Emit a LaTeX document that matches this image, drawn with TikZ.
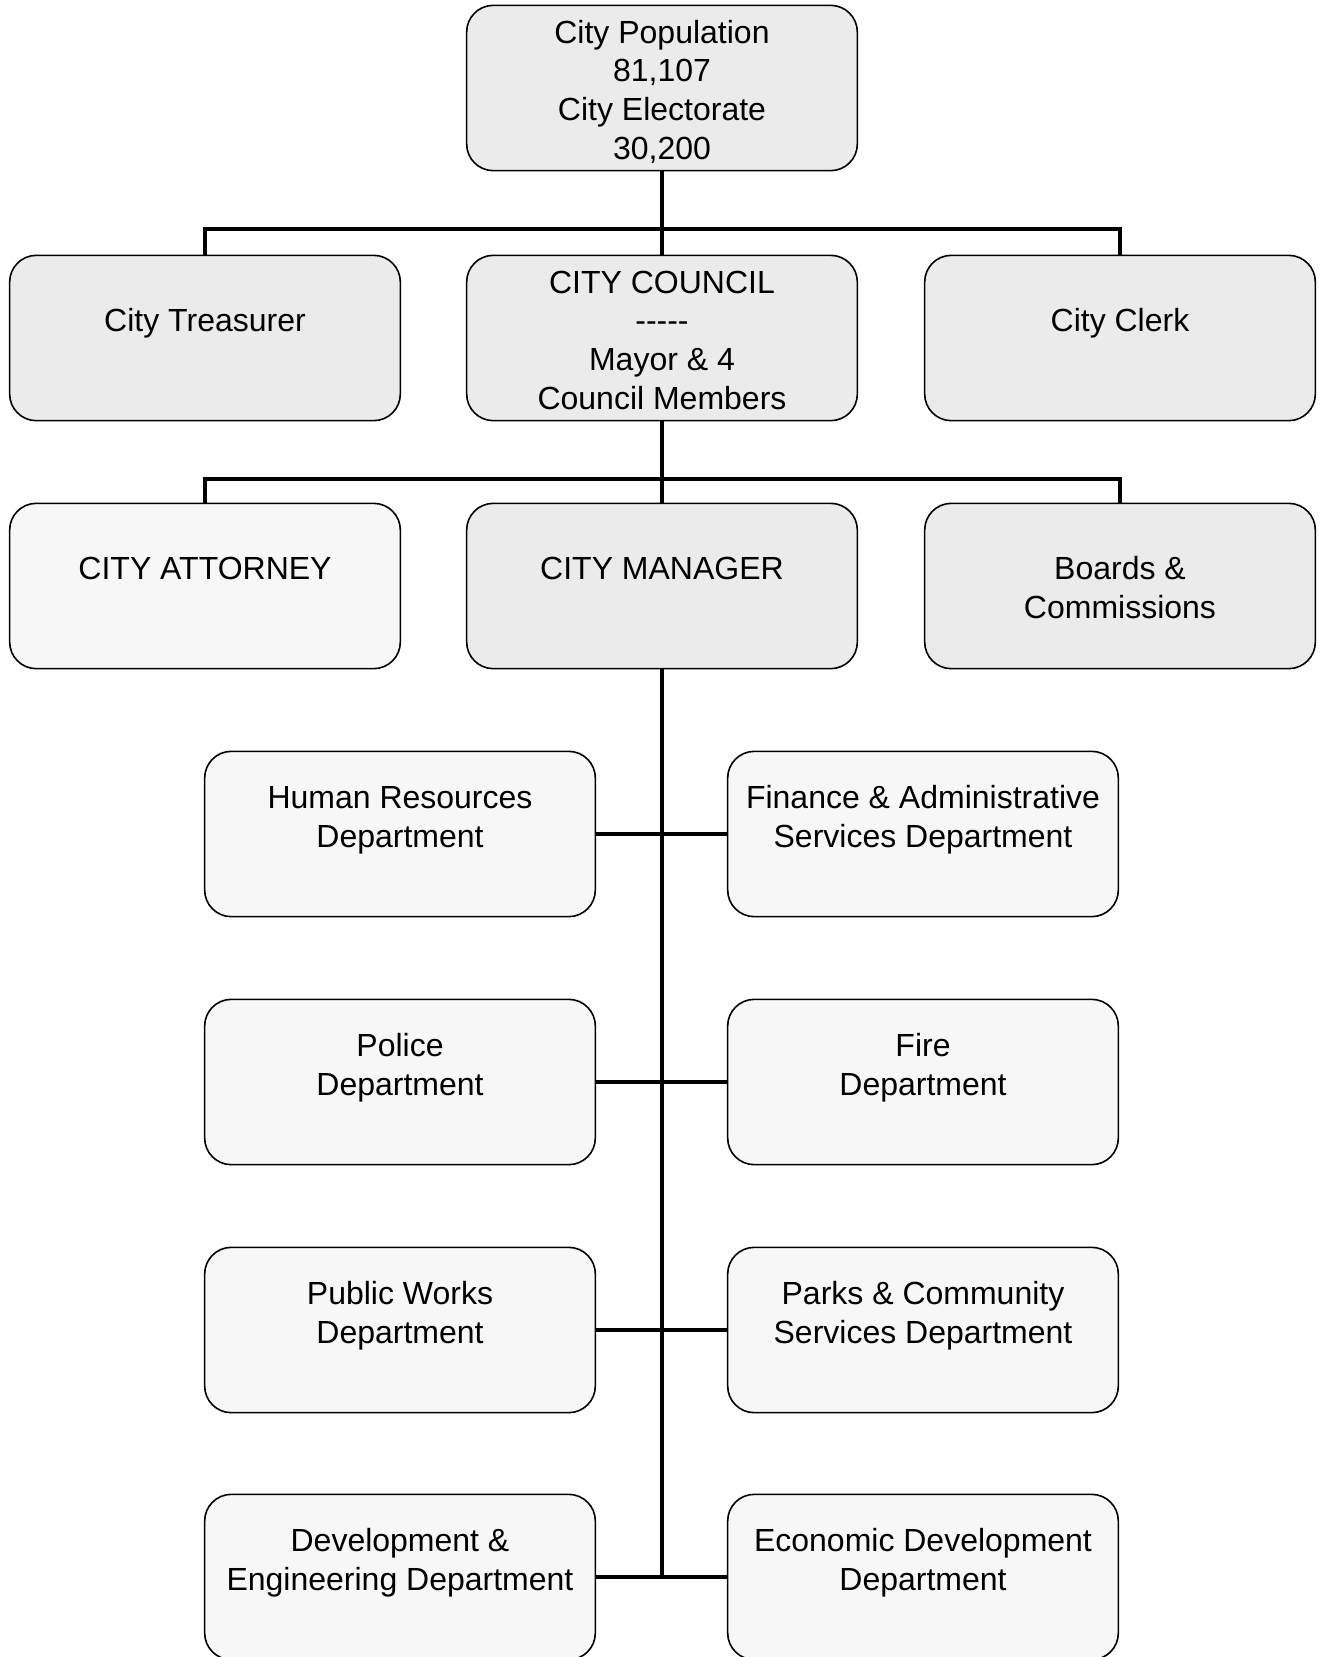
\documentclass[tikz,border=0pt]{standalone}
\usepackage{fontspec}
\setmainfont{Liberation Sans}
\usetikzlibrary{positioning}

\tikzset{
  office/.style={draw, line width=1.2pt, rounded corners=20pt, fill=gray!16,
    minimum width=293pt, minimum height=124pt, inner sep=0pt},
  dept/.style={office, fill=gray!6},
  caption/.style={align=center, anchor=base, inner sep=0pt,
    font=\fontsize{24}{29}\selectfont},
  link/.style={line width=3pt},
}

\begin{document}
\begin{tikzpicture}[x=0.75pt, y=-0.75pt]
\useasboundingbox (0,0) rectangle (1321,1657);

% boxes
\node[office] (pop) at (662,88) {};
\node[office] (treas) at (205,338) {};
\node[office] (council) at (662,338) {};
\node[office] (clerk) at (1120,338) {};
\node[dept] (atty) at (205,586) {};
\node[office] (mgr) at (662,586) {};
\node[office] (boards) at (1120,586) {};

\node[dept] (hr) at (400,834) {};
\node[dept] (fin) at (923,834) {};
\node[dept] (pol) at (400,1082) {};
\node[dept] (fire) at (923,1082) {};
\node[dept] (pw) at (400,1330) {};
\node[dept] (parks) at (923,1330) {};
\node[dept] (dev) at (400,1577) {};
\node[dept] (econ) at (923,1577) {};

% texts (base = last line)
\node[caption] (pop-t) at ([yshift=-116pt]pop.north) {City Population\\81,107\\City Electorate\\30,200};
\node[caption] (treas-t) at ([yshift=-58pt]treas.north) {City Treasurer};
\node[caption] (council-t) at ([yshift=-116pt]council.north) {CITY COUNCIL\\-{}-{}-{}-{}-\\Mayor \& 4\\Council Members};
\node[caption] (clerk-t) at ([yshift=-58pt]clerk.north) {City Clerk};
\node[caption] (atty-t) at ([yshift=-58pt]atty.north) {CITY ATTORNEY};
\node[caption] (mgr-t) at ([yshift=-58pt]mgr.north) {CITY MANAGER};
\node[caption] (boards-t) at ([yshift=-87pt]boards.north) {Boards \&\\Commissions};

\node[caption] (hr-t) at ([yshift=-72.5pt]hr.north) {Human Resources\\Department};
\node[caption] (fin-t) at ([yshift=-72.5pt]fin.north) {Finance \& Administrative\\Services Department};
\node[caption] (pol-t) at ([yshift=-72.5pt]pol.north) {Police\\Department};
\node[caption] (fire-t) at ([yshift=-72.5pt]fire.north) {Fire\\Department};
\node[caption] (pw-t) at ([yshift=-72.5pt]pw.north) {Public Works\\Department};
\node[caption] (parks-t) at ([yshift=-72.5pt]parks.north) {Parks \& Community\\Services Department};
\node[caption] (dev-t) at ([yshift=-72.5pt]dev.north) {Development \&\\Engineering Department};
\node[caption] (econ-t) at ([yshift=-72.5pt]econ.north) {Economic Development\\Department};

% connectors
\coordinate (bus1) at (662,229);
\coordinate (bus2) at (662,479);
\draw[link] (pop.south) -- (council.north);
\draw[link] (treas.north) -- (treas.north |- bus1) -- (clerk.north |- bus1) -- (clerk.north);
\draw[link] (council.south) -- (mgr.north);
\draw[link] (atty.north) -- (atty.north |- bus2) -- (boards.north |- bus2) -- (boards.north);
\draw[link] (mgr.south) -- (mgr.south |- dev.east);
\foreach \l/\r in {hr/fin, pol/fire, pw/parks, dev/econ}
  \draw[link] (\l.east) -- (\r.west);
\end{tikzpicture}
\end{document}
